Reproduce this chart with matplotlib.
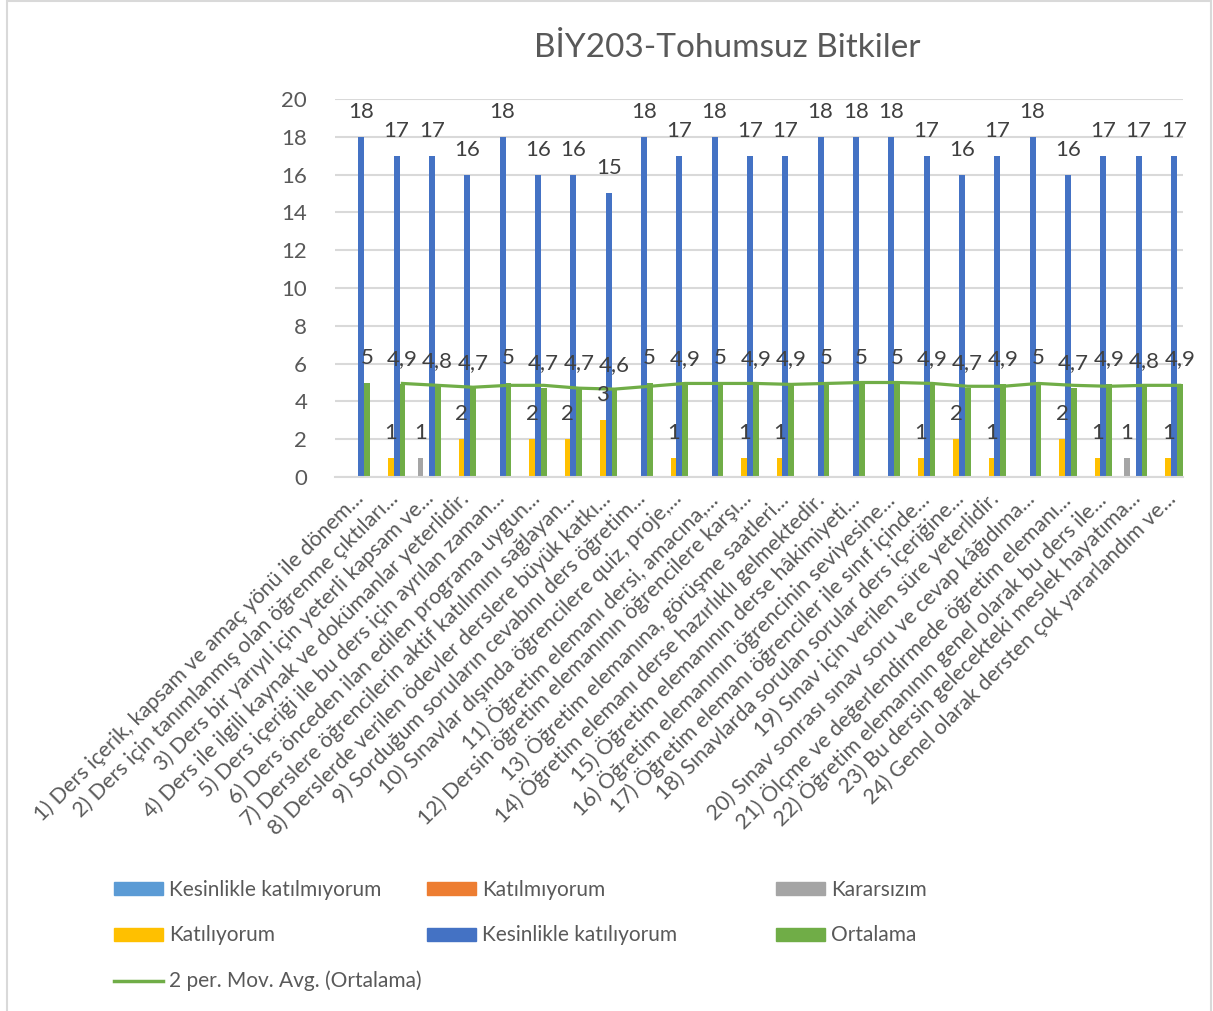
import numpy as np
import matplotlib
matplotlib.use('Agg')
import matplotlib.pyplot as plt
from matplotlib.patches import Patch, Rectangle
from matplotlib.lines import Line2D

plt.rcParams['font.family'] = ['Lato', 'DejaVu Sans']

# DATA

title = 'BİY203-Tohumsuz Bitkiler'

categories = [
    '1) Ders içerik, kapsam ve amaç yönü ile dönem...',
    '2) Ders için tanımlanmış olan öğrenme çıktıları...',
    '3) Ders bir yarıyıl için yeterli kapsam ve...',
    '4) Ders ile ilgili kaynak ve dokümanlar yeterlidir.',
    '5) Ders içeriği ile bu ders için ayrılan zaman...',
    '6) Ders önceden ilan edilen programa uygun...',
    '7) Derslere öğrencilerin aktif katılımını sağlayan...',
    '8) Derslerde verilen ödevler derslere büyük katkı...',
    '9) Sorduğum soruların cevabını ders öğretim...',
    '10) Sınavlar dışında öğrencilere quiz, proje,...',
    '11) Öğretim elemanı dersi, amacına,...',
    '12) Dersin öğretim elemanının öğrencilere karşı...',
    '13) Öğretim elemanına, görüşme saatleri...',
    '14) Öğretim elemanı derse hazırlıklı gelmektedir.',
    '15) Öğretim elemanının derse hâkimiyeti...',
    '16) Öğretim elemanının öğrencinin seviyesine...',
    '17) Öğretim elemanı öğrenciler ile sınıf içinde...',
    '18) Sınavlarda sorulan sorular ders içeriğine...',
    '19) Sınav için verilen süre yeterlidir.',
    '20) Sınav sonrası sınav soru ve cevap kâğıdıma...',
    '21) Ölçme ve değerlendirmede öğretim elemanı...',
    '22) Öğretim elemanının genel olarak bu ders ile...',
    '23) Bu dersin gelecekteki meslek hayatıma...',
    '24) Genel olarak dersten çok yararlandım ve...',
]

series_names = ['Kesinlikle katılmıyorum', 'Katılmıyorum', 'Kararsızım',
                'Katılıyorum', 'Kesinlikle katılıyorum', 'Ortalama']

kesinlikle_katilmiyorum = [0] * 24
katilmiyorum = [0] * 24
kararsizim = [0, 0, 1, 0, 0, 0, 0, 0, 0, 0, 0, 0,
              0, 0, 0, 0, 0, 0, 0, 0, 0, 0, 1, 0]
katiliyorum = [0, 1, 0, 2, 0, 2, 2, 3, 0, 1, 0, 1,
               1, 0, 0, 0, 1, 2, 1, 0, 2, 1, 0, 1]
kesinlikle_katiliyorum = [18, 17, 17, 16, 18, 16, 16, 15, 18, 17, 18, 17,
                          17, 18, 18, 18, 17, 16, 17, 18, 16, 17, 17, 17]
ortalama = [5, 4.9, 4.8, 4.7, 5, 4.7, 4.7, 4.6, 5, 4.9, 5, 4.9,
            4.9, 5, 5, 5, 4.9, 4.7, 4.9, 5, 4.7, 4.9, 4.8, 4.9]

colors = ['#5B9BD5', '#ED7D31', '#A5A5A5', '#FFC000', '#4472C4', '#70AD47']

# FIGURE

W, H = 1213, 1011
fig = plt.figure(figsize=(W / 100, H / 100), dpi=100)
ax = fig.add_axes([335 / W, 1 - 477 / H, (1183 - 335) / W, (477 - 99) / H])

all_series = [kesinlikle_katilmiyorum, katilmiyorum, kararsizim,
              katiliyorum, kesinlikle_katiliyorum, ortalama]
x = np.arange(len(categories))
bw = 0.163
txt_color = '#404040'

for i, (vals, col) in enumerate(zip(all_series, colors)):
    xs = x + (i - 2.5) * bw
    ax.bar(xs, vals, width=bw, color=col, zorder=2)
    for xi, v in zip(xs, vals):
        if v == 0:
            continue
        ax.annotate(f'{v:g}'.replace('.', ','), (xi, v), xytext=(0, 18),
                    textcoords='offset points', ha='center', va='center',
                    fontsize=16, color=txt_color, zorder=5)

# 2 period moving average of Ortalama, drawn at the Ortalama bars
orta = np.array(ortalama, dtype=float)
mov_avg = (orta[1:] + orta[:-1]) / 2
ax.plot(x[1:] + 2.5 * bw, mov_avg, color='#70AD47', lw=2.3, zorder=4)

ax.set_xlim(-0.5, len(categories) - 0.5)
ax.set_ylim(0, 20)
ax.set_yticks(range(0, 21, 2))
ax.set_xticks(x)
ax.set_xticklabels(categories, rotation=45, ha='right', va='top',
                   rotation_mode='anchor', color='#595959')
ax.tick_params(axis='both', length=0, labelcolor='#595959')
ax.tick_params(axis='x', pad=8, labelsize=15.5)
ax.tick_params(axis='y', pad=20, labelsize=16)
ax.grid(axis='y', color='#D9D9D9', lw=1.5, zorder=0)
ax.set_axisbelow(True)
for s in ['top', 'right', 'left']:
    ax.spines[s].set_visible(False)
ax.spines['bottom'].set_color('#D9D9D9')
ax.spines['bottom'].set_linewidth(1.5)

fig.text(727 / W, 1 - 48 / H, title, ha='center', va='center',
         fontsize=24, color='#595959')

# legend, three columns as in the source
handles = [Patch(color=c) for c in colors]
ma_handle = Line2D([], [], color='#70AD47', lw=2.5)
cols = [
    ([handles[0], handles[3], ma_handle],
     [series_names[0], series_names[3], '2 per. Mov. Avg. (Ortalama)'], 114),
    ([handles[1], handles[4]], [series_names[1], series_names[4]], 427),
    ([handles[2], handles[5]], [series_names[2], series_names[5]], 776),
]
for hs, ls, xpos in cols:
    fig.legend(hs, ls, loc='upper left', bbox_to_anchor=(xpos / W, 1 - 880 / H),
               frameon=False, fontsize=15, handlelength=2.35,
               handleheight=0.58, handletextpad=0.28, labelspacing=1.22,
               borderpad=0, borderaxespad=0, labelcolor='#595959')

fig.add_artist(Rectangle((7 / W, -0.01), (1211 - 7) / W, 1.01 - 1 / H,
                         transform=fig.transFigure, fill=False,
                         edgecolor='#D9D9D9', lw=1.5))

fig.savefig('out.png', dpi=100)
